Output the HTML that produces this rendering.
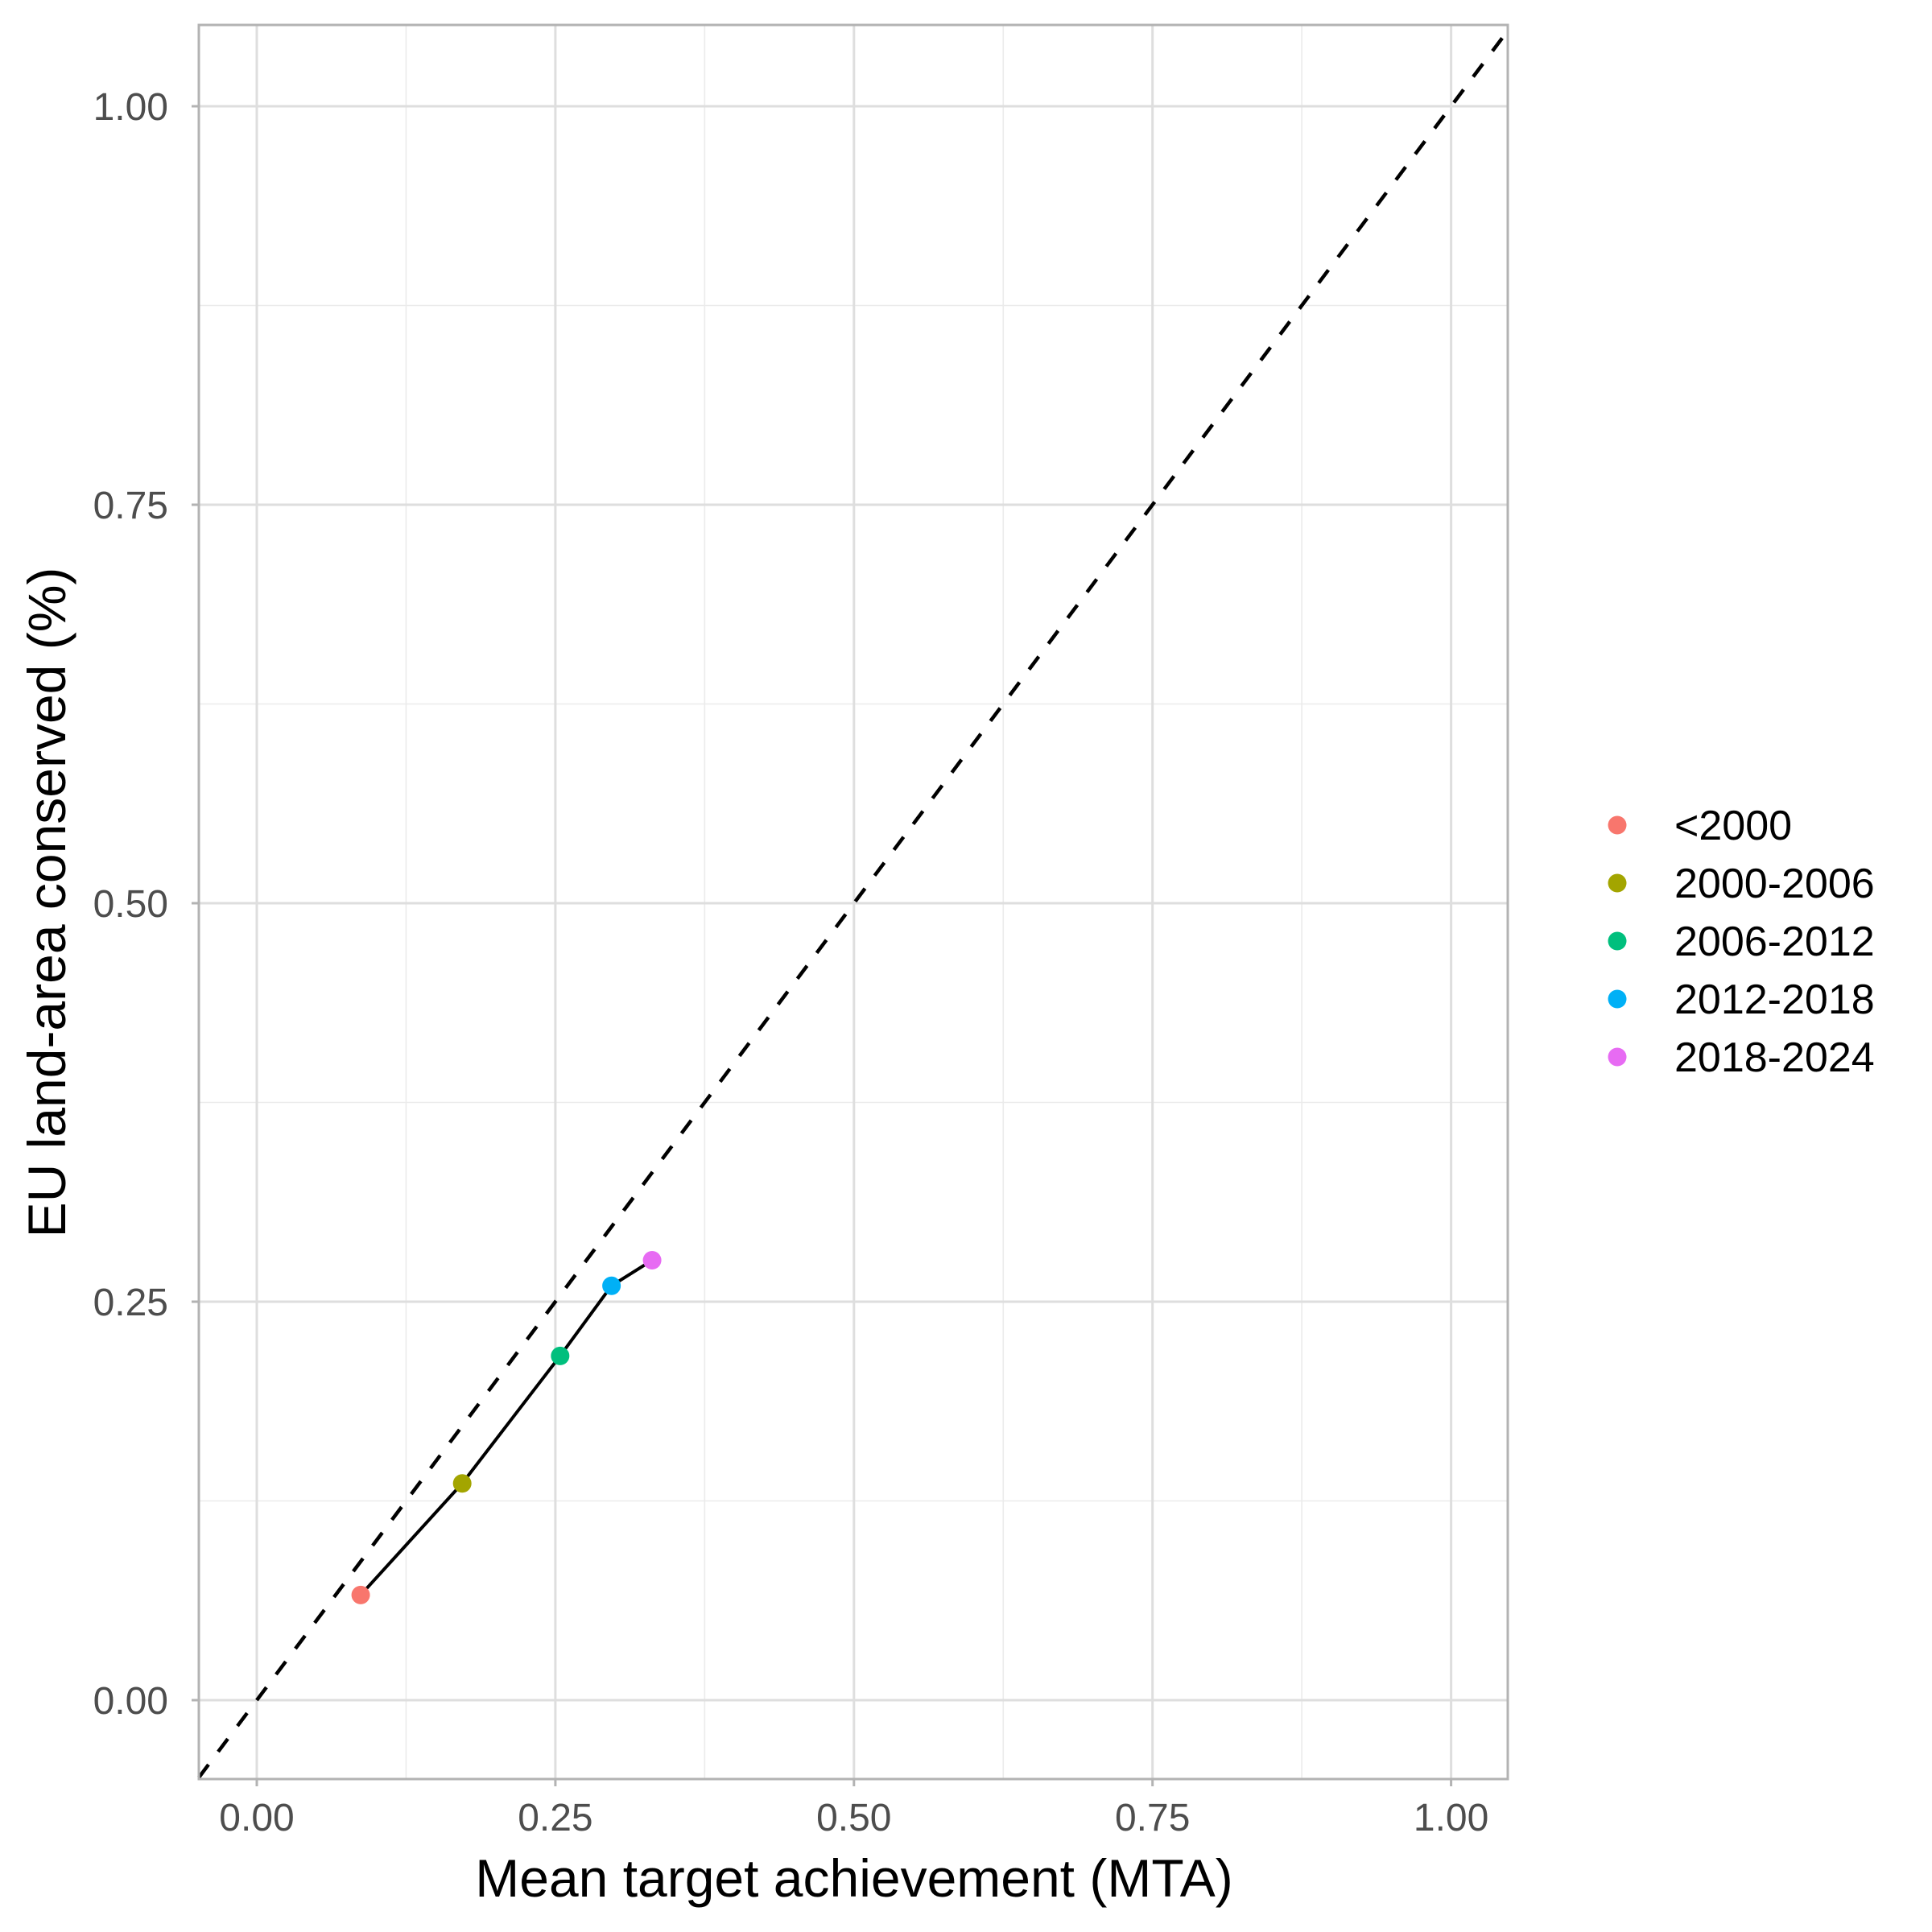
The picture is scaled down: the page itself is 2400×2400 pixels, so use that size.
<!DOCTYPE html>
<html><head><meta charset="utf-8"><style>
html,body{margin:0;padding:0;background:#fff;}
svg{display:block;font-family:"Liberation Sans",Arial,sans-serif;}
</style></head><body>
<svg id="chart" width="2400" height="2400" viewBox="0 0 2400 2400" xmlns="http://www.w3.org/2000/svg">
<rect width="2400" height="2400" fill="#fff"/>
<g id="grid"></g>
<g id="marks"></g>
<g id="axes"></g>
<g id="legend"></g>
<text x="1061" y="2356" font-size="66" text-anchor="middle" fill="#000">Mean target achievement (MTA)</text>
<text transform="translate(58,1121) rotate(-90)" font-size="66" text-anchor="middle" fill="#000" dominant-baseline="central">EU land-area conserved (%)</text>
</svg>
<script>
const categories = ["<2000","2000-2006","2006-2012","2012-2018","2018-2024"];
const mtaValues = [0.087, 0.172, 0.254, 0.297, 0.331];
const conservedValues = [0.066, 0.136, 0.216, 0.260, 0.276];
const colors = ["#F8766D","#A3A500","#00BF7D","#00B0F6","#E76BF3"];
const xTicks = [0, 0.25, 0.5, 0.75, 1.0];
const xTickLabels = ["0.00","0.25","0.50","0.75","1.00"];
const yTicks = [0, 0.25, 0.5, 0.75, 1.0];
const yTickLabels = ["0.00","0.25","0.50","0.75","1.00"];
const minorTicks = [0.125, 0.375, 0.625, 0.875];

const NS="http://www.w3.org/2000/svg";
const L=247,R=1873,T=31,B=2210;
const X0=319,XU=1483.6,Y0=2112,YU=1980;
const xs=v=>X0+v*XU, ys=v=>Y0-v*YU;
function mk(tag,attrs,parent){const e=document.createElementNS(NS,tag);for(const k in attrs)e.setAttribute(k,attrs[k]);parent.appendChild(e);return e;}
const grid=document.getElementById('grid'),marks=document.getElementById('marks'),axes=document.getElementById('axes'),legend=document.getElementById('legend');

minorTicks.forEach(v=>{
  let g=mk('line',{x1:xs(v),x2:xs(v),y1:T,y2:B,stroke:'#ebebeb','stroke-width':1.6},grid);
  
  
  let h=mk('line',{x1:L,x2:R,y1:ys(v),y2:ys(v),stroke:'#ebebeb','stroke-width':1.6},grid);
  
  
});
xTicks.forEach((v,i)=>{
  let g=mk('line',{x1:xs(v),x2:xs(v),y1:T,y2:B,stroke:'#dedede','stroke-width':3},grid);
  
  
  let t=mk('line',{x1:xs(v),x2:xs(v),y1:B,y2:B+9,stroke:'#b3b3b3','stroke-width':3},axes);
  
  
  let lab=mk('text',{x:xs(v),y:B+64,'font-size':48,'text-anchor':'middle',fill:'#4d4d4d'},axes);
  lab.textContent=xTickLabels[i];
  
  
});
yTicks.forEach((v,i)=>{
  let g=mk('line',{x1:L,x2:R,y1:ys(v),y2:ys(v),stroke:'#dedede','stroke-width':3},grid);
  
  
  let t=mk('line',{x1:L-9,x2:L,y1:ys(v),y2:ys(v),stroke:'#b3b3b3','stroke-width':3},axes);
  
  
  let lab=mk('text',{x:L-38,y:ys(v)+17,'font-size':48,'text-anchor':'end',fill:'#4d4d4d'},axes);
  lab.textContent=yTickLabels[i];
  
  
});
let border=mk('rect',{x:L,y:T,width:R-L,height:B-T,fill:'none',stroke:'#b3b3b3','stroke-width':3},axes);



const vmin=Math.max((L-X0)/XU,(Y0-B)/YU), vmax=Math.min((R-X0)/XU,(Y0-T)/YU);
let dl=mk('line',{x1:xs(vmin),y1:ys(vmin),x2:xs(vmax),y2:ys(vmax),stroke:'#000','stroke-width':4.5,'stroke-dasharray':'20 20'},marks);



let pts=mtaValues.map((v,i)=>xs(v)+','+ys(conservedValues[i])).join(' ');
let pl=mk('polyline',{points:pts,fill:'none',stroke:'#000','stroke-width':4},marks);


mtaValues.forEach((v,i)=>{
  let c=mk('circle',{cx:xs(v),cy:ys(conservedValues[i]),r:11.5,fill:colors[i]},marks);
  
  
});
categories.forEach((c,i)=>{
  const y=1025+i*72;
  let d=mk('circle',{cx:2009,cy:y,r:11.5,fill:colors[i]},legend);
  
  
  let t=mk('text',{x:2080,y:y+18,'font-size':52,fill:'#000'},legend);
  t.textContent=c;
  
  
});
</script>
</body></html>
